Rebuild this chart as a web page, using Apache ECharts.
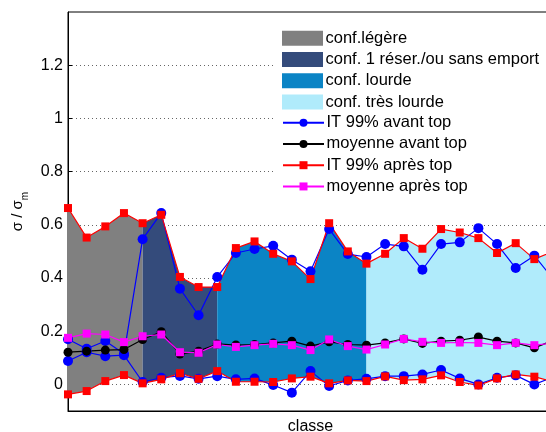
<!DOCTYPE html>
<html>
<head>
<meta charset="utf-8">
<script src="https://cdn.jsdelivr.net/npm/echarts@6/dist/echarts.min.js"></script>
<style>
  html, body { margin: 0; padding: 0; background: #fff; }
  #chart { width: 546px; height: 432px; }
</style>
</head>
<body>
<div id="chart"></div>
<script>
// IT 99% bounds and means per class, before and after "top"
const itAvantHaut = [0.17, 0.134, 0.163, 0.115, 0.546, 0.644, 0.36, 0.26, 0.404, 0.494, 0.509, 0.521, 0.469, 0.425, 0.584, 0.49, 0.479, 0.5275, 0.519, 0.431, 0.5275, 0.534, 0.5875, 0.5275, 0.4375, 0.484, 0.397];
const itAvantBas = [0.088, 0.121, 0.106, 0.11, 0.009, 0.025, 0.032, 0.021, 0.031, 0.019, 0.0225, -0.0025, -0.031, 0.05, -0.006, 0.015, 0.021, 0.031, 0.031, 0.0375, 0.054, 0.0225, 0, 0.025, 0.034, 0, 0.027];
const moyAvant = [0.121, 0.125, 0.129, 0.131, 0.169, 0.198, 0.114, 0.125, 0.152, 0.148, 0.15, 0.156, 0.1625, 0.144, 0.16, 0.15, 0.1475, 0.156, 0.171, 0.154, 0.1625, 0.166, 0.178, 0.1625, 0.156, 0.1375, 0.165];
const itApresHaut = [0.663, 0.552, 0.594, 0.644, 0.606, 0.6375, 0.404, 0.366, 0.366, 0.5125, 0.5375, 0.491, 0.4625, 0.396, 0.606, 0.5, 0.454, 0.491, 0.55, 0.51, 0.584, 0.571, 0.55, 0.494, 0.531, 0.471, 0.5];
const itApresBas = [-0.0375, -0.025, 0.0125, 0.035, 0.004, 0.019, 0.042, 0.021, 0.05, 0.01, 0.01, 0.009, 0.0225, 0.029, 0.004, 0.015, 0.0125, 0.03, 0.016, 0.019, 0.034, 0.009, -0.004, 0.0225, 0.0375, 0.029, 0.01];
const moyApres = [0.175, 0.191, 0.1875, 0.159, 0.181, 0.1875, 0.121, 0.119, 0.15, 0.141, 0.1475, 0.1525, 0.1475, 0.129, 0.169, 0.144, 0.131, 0.15, 0.171, 0.16, 0.156, 0.1575, 0.156, 0.1475, 0.156, 0.1475, 0.155];

// configuration bands: first and last class index of each
const configNames = ['conf.légère', 'conf. 1 réser./ou sans emport', 'conf. lourde', 'conf. très lourde'];
const configRanges = [[0, 4], [4, 8], [8, 16], [16, 26]];
const configColors = ['#808080', '#344b7b', '#0b84c5', '#b0ebfb'];

const yTicks = [0, 0.2, 0.4, 0.6, 0.8, 1, 1.2];

const FONT = '"Liberation Sans", Arial, Helvetica, sans-serif';

const toPairs = arr => arr.map((v, i) => [i, v]);

// band polygon between the upper and lower "après top" bounds
function bandRenderer(range, color) {
  return function (params, api) {
    const pts = [];
    for (let i = range[0]; i <= range[1]; i++) pts.push(api.coord([i, itApresHaut[i]]));
    for (let i = range[1]; i >= range[0]; i--) pts.push(api.coord([i, itApresBas[i]]));
    return { type: 'polygon', shape: { points: pts }, style: { fill: color } };
  };
}

const bandSeries = configNames.map((name, k) => ({
  name: name,
  type: 'custom',
  coordinateSystem: 'cartesian2d',
  z: 1,
  data: [[configRanges[k][0], 0]],
  itemStyle: { color: configColors[k] },
  renderItem: bandRenderer(configRanges[k], configColors[k])
}));

function lineSeries(name, values, color, symbol, size) {
  return {
    name: name,
    type: 'line',
    data: toPairs(values),
    symbol: symbol,
    symbolSize: size,
    showSymbol: true,
    lineStyle: { color: color, width: 1.2 },
    itemStyle: { color: color },
    z: 3
  };
}

const lineNames = ['IT 99% avant top', 'moyenne avant top', 'IT 99% après top', 'moyenne après top'];

const legendText = { fontSize: 16.5, color: '#000', fontFamily: FONT, lineHeight: 18, padding: [0, 0, 0, -2.5] };

const chart = echarts.init(document.getElementById('chart'), null, { renderer: 'canvas' });
chart.setOption({
  animation: false,
  backgroundColor: '#fff',
  textStyle: { fontFamily: FONT },
  grid: {
    left: 68, right: -7, top: 12, bottom: 21,
    outerBoundsMode: 'none', containLabel: false,
    show: true, borderColor: '#000', borderWidth: 1, backgroundColor: 'transparent'
  },
  graphic: [{
    type: 'rect', z: 1,
    shape: { x: 273, y: 26, width: 280, height: 172 },
    style: { fill: '#fff' }
  }],
  legend: [{
    orient: 'vertical', left: 282, top: 29.3, padding: 0,
    itemWidth: 41, itemHeight: 15, itemGap: 3.25,
    selectedMode: false,
    textStyle: legendText,
    data: configNames.map((n, k) => ({ name: n, icon: 'rect', itemStyle: { color: configColors[k] } }))
  }, {
    orient: 'vertical', left: 282, top: 113.7, padding: 0,
    itemWidth: 41, itemHeight: 10, itemGap: 3.25,
    selectedMode: false,
    textStyle: legendText,
    data: lineNames
  }],
  xAxis: {
    type: 'value', min: 0, max: 26,
    name: 'classe', nameLocation: 'middle', nameGap: 8,
    nameTextStyle: { fontSize: 16, color: '#000', fontFamily: FONT, verticalAlign: 'top' },
    axisLine: { show: true, onZero: false, lineStyle: { color: '#000', width: 1 } },
    axisTick: { show: false },
    axisLabel: { show: false },
    splitLine: { show: false }
  },
  yAxis: {
    type: 'value', min: -0.1, max: 1.4,
    name: '{a|σ / σ}{b|m}', nameLocation: 'middle', nameGap: 31,
    nameTextStyle: {
      color: '#000', fontFamily: FONT,
      rich: {
        a: { fontSize: 15, fontFamily: FONT, color: '#000', verticalAlign: 'top' },
        b: { fontSize: 10, fontFamily: FONT, color: '#000', verticalAlign: 'bottom', padding: [9, 0, 0, 0] }
      }
    },
    axisLine: { show: true, onZero: false, lineStyle: { color: '#000', width: 1 } },
    axisTick: { show: true, inside: true, length: 4, customValues: yTicks, lineStyle: { color: '#000' } },
    axisLabel: { customValues: yTicks, fontSize: 16, color: '#000', fontFamily: FONT, margin: 5 },
    splitLine: { show: true, lineStyle: { color: '#666', width: 1, type: [1, 3] } }
  },
  series: bandSeries.concat([
    lineSeries(lineNames[0], itAvantHaut, '#0000ff', 'circle', 10),
    lineSeries(lineNames[0], itAvantBas, '#0000ff', 'circle', 10),
    lineSeries(lineNames[1], moyAvant, '#000000', 'circle', 9),
    lineSeries(lineNames[2], itApresHaut, '#ff0000', 'rect', 8),
    lineSeries(lineNames[2], itApresBas, '#ff0000', 'rect', 8),
    lineSeries(lineNames[3], moyApres, '#ff00ff', 'rect', 8)
  ])
});
</script>
</body>
</html>
